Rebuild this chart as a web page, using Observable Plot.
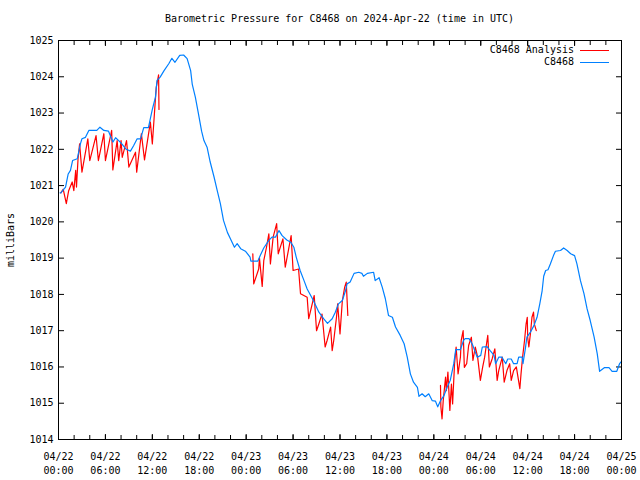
<!DOCTYPE html>
<html><head><meta charset="utf-8">
<script src="https://cdn.jsdelivr.net/npm/d3@7"></script>
<script src="https://cdn.jsdelivr.net/npm/@observablehq/plot@0.6"></script>
<style>
body{margin:0;background:#fff;font-family:"DejaVu Sans Mono",monospace;color:#000;}
#wrap{position:relative;width:640px;height:480px;overflow:hidden;}
#title{height:28px;box-sizing:border-box;padding-left:39px;padding-top:14px;text-align:center;font-size:10px;line-height:10px;white-space:pre;}
.lg{position:absolute;right:31px;height:12px;display:flex;align-items:center;font-size:10px;line-height:12px;}
.lg span.sw{display:block;width:29px;height:1px;margin-left:6px;}
</style></head>
<body>
<div id="wrap">
<div id="title"></div>
<div id="chart"></div>
<div class="lg" style="top:44px"><span id="l1"></span><span class="sw" id="s1"></span></div>
<div class="lg" style="top:56px"><span id="l2"></span><span class="sw" id="s2"></span></div>
</div>
<script>
const titleText = "Barometric Pressure for C8468 on 2024-Apr-22 (time in UTC)";
const yLabel = "milliBars";
const seriesNames = ["C8468 Analysis", "C8468"];
const seriesColors = ["#ff0000", "#0080ff"];
const yTicks = [1014,1015,1016,1017,1018,1019,1020,1021,1022,1023,1024,1025];

// hours after 2024-04-22 00:00 UTC
const stationHours = [0.2,0.3,0.9,1.24,1.53,1.8,2.4,2.8,3.0,3.45,3.88,4.9,5.3,5.8,6.4,6.95,7.3,7.7,8.1,8.6,9.2,9.6,10.06,10.5,10.9,11.5,12.0,12.4,12.6,13.0,13.5,14.1,14.5,14.9,15.5,16.0,16.45,16.9,17.1,17.5,17.9,18.3,18.6,19.0,19.4,19.9,20.3,20.7,21.1,21.6,22.0,22.5,22.85,23.3,23.9,24.5,24.6,25.5,25.8,26.25,26.9,27.3,27.75,28.2,28.6,29.2,29.7,30.1,30.4,30.9,31.4,31.8,32.6,33.3,33.9,34.4,35.0,35.4,35.8,36.3,36.7,36.9,37.3,37.8,38.4,38.8,39.0,39.5,40.3,40.5,41.0,41.4,41.8,42.2,42.7,43.1,43.7,44.2,44.6,45.0,45.4,45.9,46.1,46.5,46.9,47.35,47.8,48.2,48.5,48.85,49.3,49.7,50.1,50.55,50.8,51.4,51.8,52.0,52.5,52.9,53.3,53.55,54.0,54.2,54.8,55.2,55.7,55.9,56.3,56.7,57.2,57.45,57.9,58.2,58.65,58.85,59.3,59.4,59.7,59.9,60.35,60.8,61.2,61.55,61.85,62.05,62.3,62.6,62.9,63.3,63.55,64.2,64.6,65.05,65.5,66.0,66.3,66.75,67.2,67.6,68.0,68.5,68.9,69.2,69.8,70.4,70.8,71.4,71.75,72.0];
const stationValues = [1020.8,1020.8,1020.96,1021.32,1021.42,1021.69,1021.74,1022.15,1022.29,1022.33,1022.52,1022.52,1022.61,1022.52,1022.5,1022.2,1022.32,1022.24,1022.15,1022.01,1021.95,1022.1,1022.29,1022.29,1022.6,1022.6,1023.1,1023.44,1023.9,1023.99,1024.17,1024.36,1024.51,1024.4,1024.59,1024.6,1024.5,1024.17,1023.8,1023.44,1022.98,1022.5,1022.24,1022.06,1021.65,1021.23,1020.86,1020.5,1020.04,1019.71,1019.53,1019.3,1019.4,1019.26,1019.19,1019.03,1018.92,1018.92,1019.07,1019.28,1019.49,1019.58,1019.58,1019.76,1019.62,1019.5,1019.44,1019.3,1019.03,1018.66,1018.38,1018.15,1017.83,1017.51,1017.33,1017.2,1017.33,1017.51,1017.74,1017.83,1018.1,1018.29,1018.34,1018.58,1018.61,1018.58,1018.5,1018.58,1018.61,1018.38,1018.46,1018.2,1017.88,1017.42,1017.37,1017.1,1016.87,1016.64,1016.27,1015.81,1015.58,1015.44,1015.19,1015.26,1015.18,1015.26,1015.07,1015.06,1014.9,1015.07,1015.21,1015.44,1015.63,1016.09,1016.48,1016.48,1016.73,1016.78,1016.78,1016.64,1016.41,1016.27,1016.32,1016.55,1016.56,1016.45,1016.32,1016.09,1016.27,1016.27,1016.09,1016.22,1016.22,1016.09,1016.09,1016.27,1016.27,1016.09,1016.5,1016.82,1016.96,1017.14,1017.37,1017.74,1018.1,1018.5,1018.66,1018.68,1018.84,1019.07,1019.19,1019.21,1019.28,1019.21,1019.12,1019.07,1018.84,1018.38,1018.02,1017.6,1017.28,1016.82,1016.36,1015.88,1015.98,1015.98,1015.88,1015.88,1016.09,1016.15];

// analysis: NaN breaks the line between the three runs
const analysisHours = [0.3,0.6,1.0,1.3,1.75,1.96,2.2,2.3,2.5,2.7,3.0,3.75,4.0,4.8,5.1,5.8,6.0,6.8,6.95,7.5,7.7,8.0,8.15,8.7,9.0,9.85,10.0,10.6,11.0,11.75,12.0,12.5,12.8,12.85,
 18,
 24.85,24.97,25.6,25.7,26.05,26.25,26.6,26.9,27.1,27.45,27.9,28.1,28.7,29.0,29.75,30.0,30.7,30.95,31.8,32.0,32.2,32.7,33.0,33.3,33.7,34.1,34.35,34.8,35.0,35.2,35.55,35.7,36.0,36.3,36.6,36.8,37.0,
 43,
 48.85,48.9,49.05,49.2,49.5,49.6,49.8,50.05,50.25,50.4,50.65,50.85,51.1,51.4,51.5,51.75,51.9,52.2,52.45,52.8,53.0,53.3,53.6,53.95,54.25,54.5,54.8,54.9,55.1,55.45,55.8,56.1,56.3,56.75,57.0,57.35,57.7,57.9,58.2,58.55,59.0,59.15,59.35,59.6,59.8,59.95,60.0,60.15,60.35,60.55,60.75,60.85,61.1];
const analysisValues = [1020.8,1020.9,1020.5,1020.86,1021.1,1020.86,1021.42,1020.96,1021.74,1022.15,1021.37,1022.29,1021.69,1022.38,1021.69,1022.43,1021.69,1022.52,1021.43,1022.24,1021.69,1022.24,1021.78,1022.24,1021.51,1021.92,1021.37,1022.43,1021.71,1022.75,1022.15,1023.71,1024.05,1023.1,
 NaN,
 1019.12,1018.29,1018.7,1019.0,1018.22,1018.93,1019.3,1019.67,1018.84,1019.58,1019.95,1019.12,1019.53,1018.75,1019.62,1018.66,1018.7,1018.02,1017.92,1017.33,1017.51,1017.97,1017.0,1017.19,1017.46,1016.55,1016.73,1017.1,1016.45,1016.73,1017.37,1017.74,1016.91,1017.83,1018.2,1018.34,1017.42,
 NaN,
 1015.49,1014.9,1014.57,1015.07,1015.72,1015.35,1015.86,1014.8,1015.53,1014.98,1016.09,1016.55,1015.81,1016.27,1016.73,1017.0,1015.99,1016.09,1016.59,1016.82,1016.18,1016.55,1016.27,1015.63,1016.0,1016.27,1016.73,1016.87,1016.0,1016.22,1016.5,1015.63,1015.9,1016.27,1015.58,1015.9,1016.09,1015.63,1015.9,1016.0,1015.4,1015.81,1016.27,1016.73,1017.19,1017.37,1016.82,1016.55,1016.91,1017.37,1017.51,1017.19,1017.0];

const T0 = Date.UTC(2024, 3, 22);
const toDate = h => new Date(T0 + h * 3600e3);
const station = stationHours.map((h, i) => ({t: toDate(h), v: stationValues[i]}));
const analysis = analysisHours.map((h, i) => ({t: toDate(h), v: analysisValues[i]}));
const majorTicks = d3.utcHour.every(6).range(toDate(0), toDate(72.01));
const minorTicks = d3.utcHour.every(2).range(toDate(0), toDate(72.01));
const fmt = d3.utcFormat("%m/%d\n%H:%M");

document.getElementById("title").textContent = titleText;
document.getElementById("l1").textContent = seriesNames[0];
document.getElementById("l2").textContent = seriesNames[1];
document.getElementById("s1").style.background = seriesColors[0];
document.getElementById("s2").style.background = seriesColors[1];

const chart = Plot.plot({
  width: 640, height: 452,
  marginTop: 12, marginBottom: 41, marginLeft: 58, marginRight: 19,
  style: {fontFamily: "DejaVu Sans Mono, monospace", fontSize: "10px", color: "#000", background: "#fff"},
  x: {type: "utc", domain: [toDate(0), toDate(72)]},
  y: {domain: [1014, 1025]},
  marks: [
    Plot.axisY(yTicks, {anchor: "left", tickSize: -6, tickPadding: 11, tickFormat: "d", label: yLabel, labelAnchor: "center", labelArrow: "none", labelOffset: 52}),
    Plot.axisY(yTicks, {anchor: "right", tickSize: -6, tickFormat: () => "", label: null}),
    Plot.axisX(majorTicks, {anchor: "bottom", tickSize: -5, tickPadding: 16, tickFormat: fmt, lineHeight: 1.4, label: null}),
    Plot.axisX(minorTicks, {anchor: "bottom", tickSize: -4, tickFormat: () => "", label: null}),
    Plot.axisX(majorTicks, {anchor: "top", tickSize: -5, tickFormat: () => "", label: null}),
    Plot.axisX(minorTicks, {anchor: "top", tickSize: -4, tickFormat: () => "", label: null}),
    Plot.lineY(analysis, {x: "t", y: "v", stroke: seriesColors[0], strokeWidth: 1.2}),
    Plot.lineY(station, {x: "t", y: "v", stroke: seriesColors[1], strokeWidth: 1.2}),
    Plot.frame({stroke: "#000", strokeWidth: 1})
  ]
});
document.getElementById("chart").appendChild(chart);
</script>
</body></html>
